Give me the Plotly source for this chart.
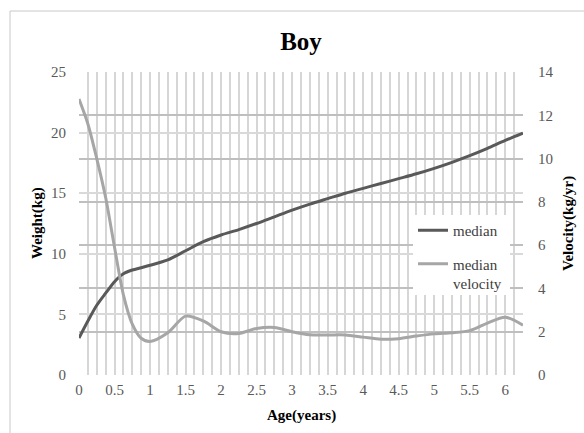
import plotly.graph_objects as go

ages = [0, 0.125, 0.25, 0.375, 0.5, 0.625, 0.75, 0.875, 1, 1.25, 1.5, 1.75, 2, 2.25, 2.5,
        2.75, 3, 3.25, 3.5, 3.75, 4, 4.25, 4.5, 4.75, 5, 5.25, 5.5, 5.75, 6, 6.25]
median_weight = [3.05, 4.45, 5.75, 6.75, 7.7, 8.35, 8.66, 8.85, 9.05, 9.5, 10.25, 11.0, 11.55,
                 12.0, 12.5, 13.05, 13.6, 14.1, 14.55, 15.0, 15.4, 15.8, 16.2, 16.6, 17.05,
                 17.55, 18.1, 18.7, 19.35, 19.95]
median_velocity = [12.75, 11.6, 10.0, 8.2, 5.9, 3.7, 2.35, 1.7, 1.55, 1.95, 2.72, 2.5, 2.0,
                   1.92, 2.15, 2.2, 2.0, 1.86, 1.85, 1.85, 1.75, 1.65, 1.68, 1.8, 1.9, 1.95,
                   2.05, 2.4, 2.67, 2.3]
x_ticks = [0, 0.5, 1, 1.5, 2, 2.5, 3, 3.5, 4, 4.5, 5, 5.5, 6]
x_tick_text = ["0", "0.5", "1", "1.5", "2", "2.5", "3", "3.5", "4", "4.5", "5", "5.5", "6"]

FONT = "Liberation Serif"

fig = go.Figure()
fig.add_trace(go.Scatter(x=ages, y=median_weight, name="median", mode="lines", legendgroup="a",
                         line=dict(color="#595959", width=3, shape="spline", smoothing=0.8)))
fig.add_trace(go.Scatter(x=ages, y=median_velocity, name="median<br>velocity", mode="lines",
                         yaxis="y2", legendgroup="b",
                         line=dict(color="#a6a6a6", width=3, shape="spline", smoothing=0.8)))

W, H = 584, 433
L, R, T, B = 79, 61, 72, 58
pw, ph = W - L - R, H - T - B

def px(x):
    return (x - L) / pw

def py(y):
    return (H - B - y) / ph

title_font = dict(family=FONT, size=15, color="black")

fig.update_layout(
    width=W, height=H,
    margin=dict(l=L, r=R, t=T, b=B, autoexpand=False),
    paper_bgcolor="white", plot_bgcolor="white",
    font=dict(family=FONT, size=15, color="#595959"),
    title=dict(text="<b>Boy</b>", x=301 / W, xref="container", xanchor="center",
               y=1 - 41 / H, yref="container", yanchor="middle",
               font=dict(family=FONT, size=25, color="black")),
    xaxis=dict(range=[0, 6.25], tickvals=x_ticks, ticktext=x_tick_text, automargin=False,
               showgrid=True, gridcolor="#d6d6d6", gridwidth=1.6,
               minor=dict(dtick=0.125, tick0=0, showgrid=True, gridcolor="#d6d6d6", gridwidth=1.6),
               zeroline=False, showline=False, ticks="", ticklabelstandoff=4),
    yaxis=dict(range=[0, 25], dtick=5, showgrid=True, gridcolor="#d9d9d9", gridwidth=1.5,
               automargin=False,
               zeroline=False, showline=False, ticks="", ticklabelstandoff=12),
    yaxis2=dict(range=[0, 14], dtick=2, overlaying="y", side="right", automargin=False,
                showgrid=True, gridcolor="#bfbfbf", gridwidth=2,
                zeroline=False, showline=False, ticks="", ticklabelstandoff=14),
    legend=dict(x=px(413), y=py(214), xanchor="left", yanchor="top",
                bgcolor="rgba(0,0,0,0)", borderwidth=0, valign="top",
                font=dict(family=FONT, size=15, color="#404040"),
                tracegroupgap=11, itemwidth=30),
    annotations=[
        dict(text="<b>Weight(kg)</b>", xref="paper", yref="paper", x=px(37), y=py(223),
             xanchor="center", yanchor="middle", textangle=-90, showarrow=False, font=title_font),
        dict(text="<b>Velocity(kg/yr)</b>", xref="paper", yref="paper", x=px(568), y=py(224),
             xanchor="center", yanchor="middle", textangle=-90, showarrow=False, font=title_font),
        dict(text="<b>Age(years)</b>", xref="paper", yref="paper", x=px(301), y=py(415),
             xanchor="center", yanchor="middle", showarrow=False, font=title_font),
    ],
    shapes=[
        dict(type="rect", xref="paper", yref="paper", x0=px(413), x1=px(510),
             y0=py(295), y1=py(215), fillcolor="white", line=dict(width=0), layer="above"),
        dict(type="rect", xref="paper", yref="paper", x0=px(10), x1=px(600),
             y0=py(445), y1=py(11), fillcolor="rgba(0,0,0,0)",
             line=dict(color="#c8c8c8", width=1), layer="below"),
    ],
)

fig.write_html("out.html", config={"displayModeBar": False},
               post_script="document.body.style.margin='0';")
